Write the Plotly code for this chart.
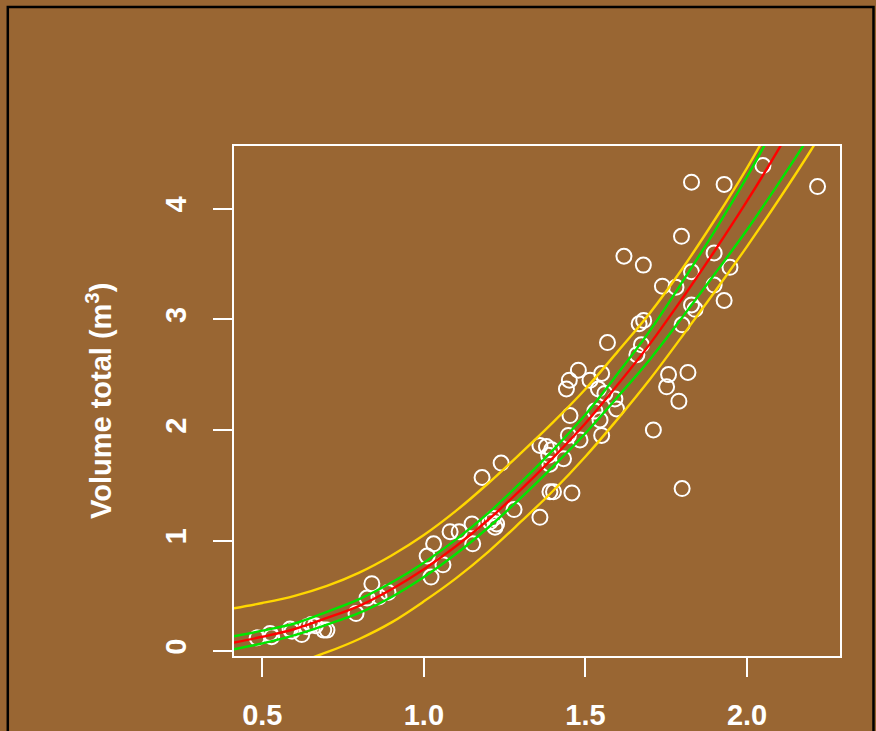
import plotly.graph_objects as go

# Observed trees: diameter class (x) and total volume in m3 (y)
x_obs = [0.484, 0.524, 0.529, 0.586, 0.592, 0.622, 0.638, 0.652, 0.664, 0.690, 0.700,
         0.790, 0.824, 0.839, 0.861, 0.889,
         1.010, 1.030, 1.022, 1.059, 1.081, 1.109, 1.149, 1.151, 1.180, 1.239, 1.205,
         1.215, 1.225, 1.220, 1.279, 1.359, 1.390, 1.401, 1.458,
         1.359, 1.379, 1.395, 1.386, 1.432, 1.390, 1.447, 1.483, 1.550, 1.452, 1.529,
         1.545, 1.596, 1.591, 1.560, 1.540, 1.514, 1.550, 1.441, 1.450, 1.478, 1.568,
         1.659, 1.673, 1.666, 1.680, 1.799, 1.757, 1.817, 1.751, 1.789, 1.710, 1.799,
         1.619, 1.679, 1.738, 1.780, 1.797, 1.828, 1.929, 2.049, 2.218, 1.898, 1.828,
         1.947, 1.898, 1.929, 1.828, 1.839]
y_obs = [0.12, 0.16, 0.13, 0.20, 0.18, 0.15, 0.22, 0.24, 0.23, 0.19, 0.19,
         0.34, 0.48, 0.61, 0.49, 0.53,
         0.86, 0.97, 0.67, 0.78, 1.08, 1.08, 1.15, 0.97, 1.57, 1.70, 1.17,
         1.20, 1.15, 1.12, 1.28, 1.21, 1.44, 1.44, 1.43,
         1.86, 1.85, 1.82, 1.77, 1.74, 1.69, 1.95, 1.91, 1.95, 2.13, 2.17,
         2.09, 2.19, 2.28, 2.33, 2.37, 2.45, 2.51, 2.37, 2.45, 2.54, 2.79,
         2.68, 2.77, 2.96, 2.99, 2.95, 2.50, 2.52, 2.39, 2.26, 2.00, 1.47,
         3.57, 3.49, 3.30, 3.29, 3.75, 4.24, 4.22, 4.39, 4.20, 3.60, 3.43,
         3.47, 3.31, 3.17, 3.13, 3.09]

# Fitted curve and its bands, evaluated along the diameter axis
x_curve = [0.412, 0.5, 0.6, 0.7, 0.8, 0.9, 1.0, 1.1, 1.2, 1.3, 1.4, 1.5, 1.6, 1.7,
           1.8, 1.9, 2.0, 2.1, 2.2, 2.29]
y_fit = [0.077, 0.13, 0.20, 0.30, 0.41, 0.56, 0.74, 0.95, 1.19, 1.46, 1.75, 2.06,
         2.41, 2.78, 3.19, 3.62, 4.07, 4.55, 5.06, 5.55]
y_conf_hi = [0.135, 0.185, 0.25, 0.355, 0.47, 0.62, 0.80, 1.01, 1.25, 1.525, 1.82,
             2.14, 2.51, 2.90, 3.34, 3.80, 4.29, 4.82, 5.38, 5.93]
y_conf_lo = [0.016, 0.07, 0.145, 0.24, 0.345, 0.49, 0.67, 0.88, 1.12, 1.385, 1.67,
             1.97, 2.30, 2.64, 3.02, 3.41, 3.81, 4.24, 4.69, 5.12]
y_pred_hi = [0.387, 0.435, 0.50, 0.59, 0.71, 0.865, 1.05, 1.27, 1.52, 1.79, 2.07,
             2.37, 2.71, 3.06, 3.46, 3.90, 4.37, 4.89, 5.46, 6.01]
y_pred_lo = [-0.233, -0.18, -0.11, -0.01, 0.11, 0.26, 0.45, 0.66, 0.90, 1.17, 1.45,
             1.76, 2.10, 2.46, 2.85, 3.25, 3.66, 4.09, 4.54, 4.97]

x_ticks = [0.5, 1.0, 1.5, 2.0]
y_ticks = [0, 1, 2, 3, 4]

BG = "#996633"
W, H = 876, 731
L, R, T, B = 234, 36, 146, 75
FONT = "Liberation Sans, Arial, sans-serif"

fig = go.Figure()
fig.add_trace(go.Scatter(
    x=x_obs, y=y_obs, mode="markers",
    marker=dict(symbol="circle-open", size=15, color="white",
                line=dict(width=2, color="white")),
    cliponaxis=True, showlegend=False))

for ys, col in [(y_pred_hi, "#FFD700"), (y_pred_lo, "#FFD700"),
                (y_conf_hi, "#00E600"), (y_conf_lo, "#00E600"),
                (y_fit, "#FF0000")]:
    fig.add_trace(go.Scatter(x=x_curve, y=ys, mode="lines", line_shape="spline",
                             line=dict(color=col, width=2.4), showlegend=False))

axis_common = dict(showgrid=False, zeroline=False, showline=True, mirror=True,
                   linecolor="white", linewidth=2, ticks="outside", ticklen=19,
                   tickwidth=2, tickcolor="white", automargin=False,
                   tickfont=dict(family=FONT, size=29, color="white", weight="bold"))

fig.update_xaxes(range=[0.4124, 2.2875], tickvals=x_ticks,
                 ticktext=[f"{v:.1f}" for v in x_ticks],
                 ticklabelstandoff=13, **axis_common)
fig.update_yaxes(range=[-0.044, 4.567], tickvals=y_ticks,
                 ticktext=[str(v) for v in y_ticks], tickangle=-90,
                 ticklabelstandoff=15, **axis_common)

fig.add_annotation(text="Volume total (m<sup>3</sup>)", textangle=-90,
                   xref="paper", yref="paper", x=(99 - L) / (W - L - R), y=0.5,
                   xanchor="center", yanchor="middle", showarrow=False,
                   font=dict(family=FONT, size=29, color="white", weight="bold"))

# outer device frame
fig.add_shape(type="rect", xref="paper", yref="paper",
              x0=(7.8 - L) / (W - L - R), x1=(873.5 - L) / (W - L - R),
              y0=(H - B - 800) / (H - T - B), y1=(H - B - 7) / (H - T - B),
              line=dict(color="black", width=2.5), layer="above")

fig.update_layout(width=W, height=H, paper_bgcolor=BG, plot_bgcolor=BG,
                  margin=dict(l=L, r=R, t=T, b=B, pad=0, autoexpand=False),
                  showlegend=False)

fig.write_html("out.html")
